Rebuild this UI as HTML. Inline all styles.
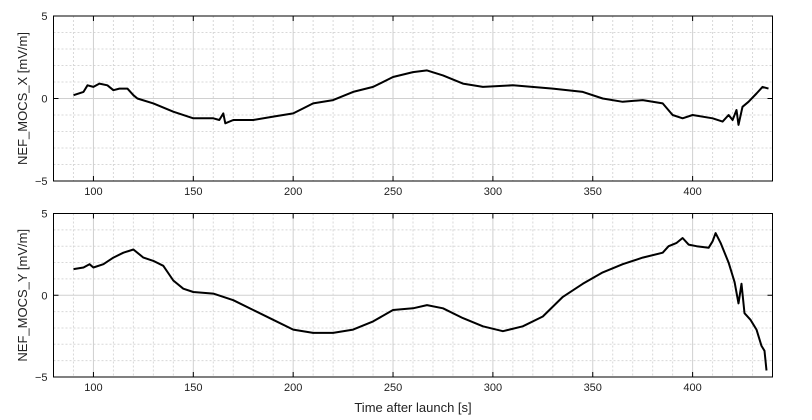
<!DOCTYPE html>
<html><head><meta charset="utf-8"><style>
html,body{margin:0;padding:0;background:#fff;}
svg{display:block;font-family:"Liberation Sans","Noto Sans CJK JP",sans-serif;}
</style></head><body>
<svg id="chart" width="812" height="420" viewBox="0 0 812 420"></svg>
<script>
const tX=[90,95,97,100,103,107,110,113,117,120,122,130,140,150,160,163,165,166,170,180,190,200,205,210,220,230,240,250,260,267,275,285,295,310,330,345,355,365,375,385,390,395,400,410,415,418,420,422,423,425,428,432,435,438];
const vX=[0.2,0.4,0.8,0.7,0.9,0.8,0.5,0.6,0.6,0.2,0,-0.3,-0.8,-1.2,-1.2,-1.3,-0.9,-1.5,-1.3,-1.3,-1.1,-0.9,-0.6,-0.3,-0.1,0.4,0.7,1.3,1.6,1.7,1.4,0.9,0.7,0.8,0.6,0.4,0,-0.2,-0.1,-0.3,-1.0,-1.2,-1.0,-1.2,-1.4,-1.0,-1.3,-0.7,-1.6,-0.5,-0.2,0.3,0.7,0.6];
const tY=[90,95,98,100,105,110,115,120,125,130,135,140,145,150,160,170,180,190,200,210,220,230,240,250,260,267,275,285,295,305,315,325,335,345,355,365,375,385,388,392,395,398,402,408,410,411.5,414,418,421,423,424.5,426,429,432,434.5,436,437];
const vY=[1.6,1.7,1.9,1.7,1.9,2.3,2.6,2.8,2.3,2.1,1.8,0.9,0.4,0.2,0.1,-0.3,-0.9,-1.5,-2.1,-2.3,-2.3,-2.1,-1.6,-0.9,-0.8,-0.6,-0.8,-1.4,-1.9,-2.2,-1.9,-1.3,-0.1,0.7,1.4,1.9,2.3,2.6,3.0,3.2,3.5,3.1,3.0,2.9,3.3,3.8,3.2,2.0,0.8,-0.5,0.7,-1.1,-1.5,-2.1,-3.1,-3.4,-4.6];
const xTicks=[100,150,200,250,300,350,400];
const yTicks=[-5,0,5];
const panels=[
 {top:16,bottom:181,t:tX,v:vX,label:"NEF_MOCS_X [mV/m]",name:"x-panel"},
 {top:213.5,bottom:377,t:tY,v:vY,label:"NEF_MOCS_Y [mV/m]",name:"y-panel"}
];
const L=53.5,R=772.5,xmin=80,xmax=440;
const svg=document.getElementById('chart');
const NS="http://www.w3.org/2000/svg";
function mk(tag,attrs,parent){const e=document.createElementNS(NS,tag);for(const k in attrs)e.setAttribute(k,attrs[k]);parent.appendChild(e);return e;}
const sx=t=>L+(t-xmin)/(xmax-xmin)*(R-L);
panels.forEach(p=>{
 const sy=v=>p.bottom-(v+5)/10*(p.bottom-p.top);
 const g=mk('g',{},svg);
 
 
 for(let t=90;t<440;t+=10){if(t%50===0)continue;mk('line',{x1:sx(t),x2:sx(t),y1:p.top,y2:p.bottom,stroke:'#d8d8d8','stroke-dasharray':'2,2','stroke-width':1},g);}
 for(let v=-4;v<5;v++){if(v===0)continue;mk('line',{x1:L,x2:R,y1:sy(v),y2:sy(v),stroke:'#d8d8d8','stroke-dasharray':'2,2','stroke-width':1},g);}
 xTicks.forEach(t=>{mk('line',{x1:sx(t),x2:sx(t),y1:p.top,y2:p.bottom,stroke:'#d0d0d0','stroke-width':1},g);
  mk('line',{x1:sx(t),x2:sx(t),y1:p.bottom,y2:p.bottom-5,stroke:'#000'},g);
  mk('line',{x1:sx(t),x2:sx(t),y1:p.top,y2:p.top+5,stroke:'#000'},g);
  const tx=mk('text',{x:sx(t),y:p.bottom+14,'font-size':11,'text-anchor':'middle',fill:'#222'},g);tx.textContent=t;
  });
 yTicks.forEach(v=>{if(v===0)mk('line',{x1:L,x2:R,y1:sy(v),y2:sy(v),stroke:'#d0d0d0'},g);
  mk('line',{x1:L,x2:L+5,y1:sy(v),y2:sy(v),stroke:'#000'},g);
  mk('line',{x1:R,x2:R-5,y1:sy(v),y2:sy(v),stroke:'#000'},g);
  const tx=mk('text',{x:L-6,y:sy(v)+4,'font-size':11,'text-anchor':'end',fill:'#222'},g);tx.textContent=v<0?'\u2212'+(-v):v;
  });
 mk('rect',{x:L,y:p.top,width:R-L,height:p.bottom-p.top,fill:'none',stroke:'#000','stroke-width':1},g);
 const d=p.t.map((t,i)=>(i?'L':'M')+sx(t).toFixed(1)+','+sy(p.v[i]).toFixed(1)).join('');
 const path=mk('path',{d:d,fill:'none',stroke:'#000','stroke-width':2,'stroke-linejoin':'round'},g);
 
 const cy=(p.top+p.bottom)/2;
 const yl=mk('text',{x:27,y:cy,'font-size':13,'text-anchor':'middle',fill:'#222',transform:`rotate(-90 27 ${cy})`},g);yl.textContent=p.label;
 
});
const xl=mk('text',{x:(L+R)/2,y:412,'font-size':13,'text-anchor':'middle',fill:'#222'},svg);xl.textContent='Time after launch [s]';

</script>
</body></html>
